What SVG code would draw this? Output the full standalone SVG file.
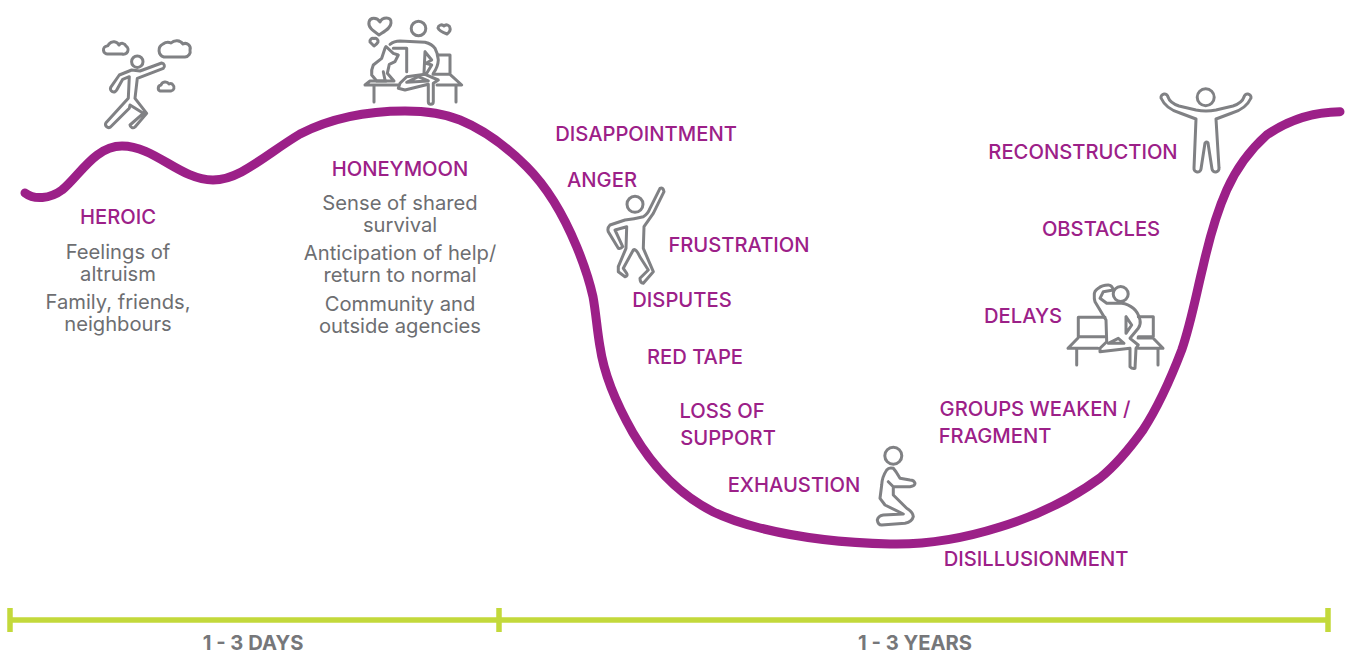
<svg xmlns="http://www.w3.org/2000/svg" width="1351" height="653" viewBox="0 0 1351 653">
<style>
text{font-family:"Inter","Liberation Sans",sans-serif;text-anchor:middle}
.p{font-size:20.2px;font-weight:500;fill:#9c2088}
.g{font-size:20.2px;font-weight:400;fill:#6d6e71}
.t{font-size:20.2px;font-weight:700;fill:#76777a}
.i{fill:none;stroke:#808184;stroke-width:3;stroke-linecap:round;stroke-linejoin:round}
.tl{fill:none;stroke:#c3d93b;stroke-width:5.5}
</style>
<rect width="1351" height="653" fill="#fff"/>
<g id="connectors">
<path id="curve" d="M25,193 C34,200 50,199 62,190 C80,175 95,146 122,146 C155,146 180,180 213,180 C240,180 265,155 300,134 C335,116 370,111 405,111 C425,111 443,113 460,120 C482,129 506,146 526.7,166.7 C546,186 564,216 576.7,246.7 C583,262 589,279 593,296.7 C596,313 597,330 600,346.7 C604,375 617,405 633,433 C653,467 680,495 713,511.7 C728,519 744,524 760,528 C800,538 845,543 890,544 C930,545 965,538 1000,527 C1036,516 1070,500 1100,478 C1116,465 1130,448 1143,430 C1158,407 1171,378 1181.7,350 C1191,323 1196,295 1203,266.7 C1209,240 1216,214 1226.7,190 C1237,167 1250,150 1266.7,135 C1287,121 1312,112 1340,111.7" fill="none" stroke="#9c2088" stroke-width="9" stroke-linecap="round"/>
<g id="timeline">
<path class="tl" d="M10,620 H1328 M10,608 V632 M499,608 V632 M1328,608 V632"/>
</g>
</g>
<g id="node-heroic">
<g class="i">
<circle cx="137.3" cy="61.7" r="5.7"/>
<path d="M131.7,70 L119.3,75 L110.7,87.3 A3.2,3.2 0 0 0 116.7,90 L122.7,79.3 L129.3,76.7 L128.3,98.3 L106,122.7 A3.2,3.2 0 0 0 110.5,127 L129.3,108.3 L130,105 L143.3,113.3 L130,125 A3,3 0 0 0 135,127 L146.7,113.3 L135,98.3 L137.3,78.3 L163.3,68.3 A3,3 0 0 0 161.7,63 L140,71 Z"/>
<path d="M108,54 H122 A4.5,4.5 0 0 0 126,46 A4,4 0 0 0 119,45 A6,6 0 0 0 109,44 Q108,46 107,46 A4,4 0 0 0 108,54 Z"/>
<path d="M164,57 H185 A5.5,5.5 0 0 0 190,50 A5,5 0 0 0 183,44 A8,8 0 0 0 171,43 Q167,41 163,44 A7,7 0 0 0 164,57 Z"/>
<path d="M160,91 H171 A3.5,3.5 0 0 0 173,85 A3,3 0 0 0 169,84 A4.5,4.5 0 0 0 161,85 A3.2,3.2 0 0 0 160,91 Z"/>
</g>
<text class="p" x="118" y="224">HEROIC</text>
<text class="g" x="118" y="259">Feelings of</text>
<text class="g" x="118" y="281">altruism</text>
<text class="g" x="118" y="309">Family, friends,</text>
<text class="g" x="118" y="331">neighbours</text>
</g>
<g id="node-honeymoon">
<g class="i">
<circle cx="418.5" cy="28.5" r="7.3"/>
<path d="M379,35 C372,30 368,27 369,22 C370,17 377,17 380,22 C382,17 392,16 391,23 C391,28 385,31 379,35 Z"/>
<path d="M374,46 L370,42 A3,3 0 0 1 374,38.5 A3,3 0 0 1 378,42 Q377,44 374,46 Z"/>
<path d="M447,34 Q439,31 438,28 A3.5,3.5 0 0 1 444,26 A3.5,3.5 0 0 1 450,28 Q451,31 447,34 Z"/>
<path d="M365,85 L370,81 H386 M365,85 H398 M433,74.3 H450 L461.7,85 H437 M437.3,55 H450 V73.3 M374,85 V102 M456,85 V102"/>
<path d="M390,44.3 Q394,41 400,41 L425,42.3 Q432,44 435,48.3 Q438,54 438.3,60 Q438,67 433.3,73.3"/>
<path d="M393.3,48.3 H406.7 V71.7 M425,51.7 L431.7,60 L426,63.3 L431.7,65 L426.7,73.3 M425,51.7 L424,73"/>
<path d="M406.7,76.7 L400,83.3 L398.3,88.3 L405,90 L428.3,84.3 V101.7 A2.5,2.5 0 0 0 433.3,101.7 V83.3 L438.3,80 L425,74.3 L406.7,76.7 Z"/>
<path d="M406.7,82.3 L418.3,76.7 L428.3,81 Z"/>
<path d="M385,48.3 L381.7,58.3 L373.3,65 Q371,70 371.7,75 L376.7,81 H394 L387.3,73.3 L389.3,64.3 L395,61.7 L398.3,55 L393.3,53.3 L386,46.5 Z M383.3,71.7 L385,80"/>
</g>
<text class="p" x="400" y="176">HONEYMOON</text>
<text class="g" x="400" y="210">Sense of shared</text>
<text class="g" x="400" y="232">survival</text>
<text class="g" x="400" y="260">Anticipation of help/</text>
<text class="g" x="400" y="282">return to normal</text>
<text class="g" x="400" y="311">Community and</text>
<text class="g" x="400" y="333">outside agencies</text>
</g>
<g id="node-fall">
<text class="p" x="646" y="141">DISAPPOINTMENT</text>
<text class="p" x="602" y="187">ANGER</text>
<text class="p" x="739" y="252">FRUSTRATION</text>
<text class="p" x="682" y="307">DISPUTES</text>
<text class="p" x="695" y="364">RED TAPE</text>
<text class="p" x="722" y="418">LOSS OF</text>
<text class="p" x="728" y="445">SUPPORT</text>
<text class="p" x="794" y="492">EXHAUSTION</text>
<g class="i">
<circle cx="635" cy="204.3" r="8"/>
<path d="M625,220 L610,225 Q607,228 608.3,231.7 L618.3,248.3 Q621,249 622.7,246.7 L615,230 L626.7,226.7 L626,248.3 L618.3,266.7 V271.7 L625,276.7 Q628,276 626.7,273.3 L623.3,268.3 L633.3,250 Q636,248 640,257 L648.3,270 L640,278.3 Q640,283 643.3,283.3 L653.3,271.7 L643.3,248.3 L644,226.7 L653.3,213.3 L664,191.7 Q663,187 660,188.3 L650,208.3 Q648,214 643.3,216.7 Q634,219 625,220 Z"/>
</g>
</g>
<g id="node-bottom">
<g class="i">
<circle cx="893.3" cy="455.7" r="8.5"/>
<path d="M893.3,468.3 Q889,467 886.7,470 Q882,477 881.7,485 L880,498.3 L885,505 L903.3,514 L883.3,515 Q878,516 877.3,520 Q878,525 881.7,525 L905,523.3 Q912,522 913.3,516.7 Q913,512 906.7,508.3 L893.3,495 V486.7 H910 Q915,486 915,483.3 Q914,480 910,480 L900,478.3 L896,471.7 Z M888.3,481.7 L893.3,486.7"/>
</g>
<text class="p" x="1036" y="566">DISILLUSIONMENT</text>
<text class="p" x="1035" y="416">GROUPS WEAKEN /</text>
<text class="p" x="995" y="443">FRAGMENT</text>
</g>
<g id="node-delays">
<text class="p" x="1023" y="323">DELAYS</text>
<g class="i">
<circle cx="1120.7" cy="294" r="7.5"/>
<path d="M1105,317.3 H1078.3 V336.7 H1105 M1078,338 L1068,348.3 H1098 M1138.3,316.7 H1153.3 V336.7 H1138.3 M1138,338 H1153 L1163,348.3 H1138 M1076.7,349 V365 M1158,349 V365"/>
<path d="M1113.3,290 Q1112,285 1108.3,285 Q1102,285 1098.3,288.3 Q1094,291 1094.3,295 Q1094,299 1095,301.7 L1106,320 L1106.7,341.7 L1100,348.3 V351.7 L1130,348.3 V366.7 Q1132,369 1135,368.3 L1136,348.3 L1138.3,345 L1130,338.3 L1138.3,328.3 Q1141,324 1140,320 Q1138,312 1133.3,308.3 Q1128,304 1121.7,303.3 H1106.7 L1100,298.3 L1103.3,291.7 Z"/>
<path d="M1126,316.7 V333.3 L1131.7,325 Z M1108.3,343.3 L1118.3,338.3 L1124,343.3 Z"/>
</g>
</g>
<g id="node-top">
<text class="p" x="1083" y="159">RECONSTRUCTION</text>
<text class="p" x="1101" y="236">OBSTACLES</text>
<g class="i">
<circle cx="1205.7" cy="97.3" r="8.5"/>
<path d="M1196,110 L1179,106 Q1170,103 1168,97 A3,3 0 0 0 1161,98 Q1166,109 1180,113 L1196,119 L1194,168 A3.5,3.5 0 0 0 1201,169 L1205,143 Q1207,141 1208,143 L1212,169 A3.5,3.5 0 0 0 1219,168 L1216,119 L1232,113 Q1246,109 1251,98 A3,3 0 0 0 1244,97 Q1242,103 1233,106 L1216,110 Q1206,112 1196,110 Z"/>
</g>
</g>
<g id="labels-time">
<text class="t" x="253" y="650">1 - 3 DAYS</text>
<text class="t" x="915" y="650">1 - 3 YEARS</text>
</g>
</svg>
